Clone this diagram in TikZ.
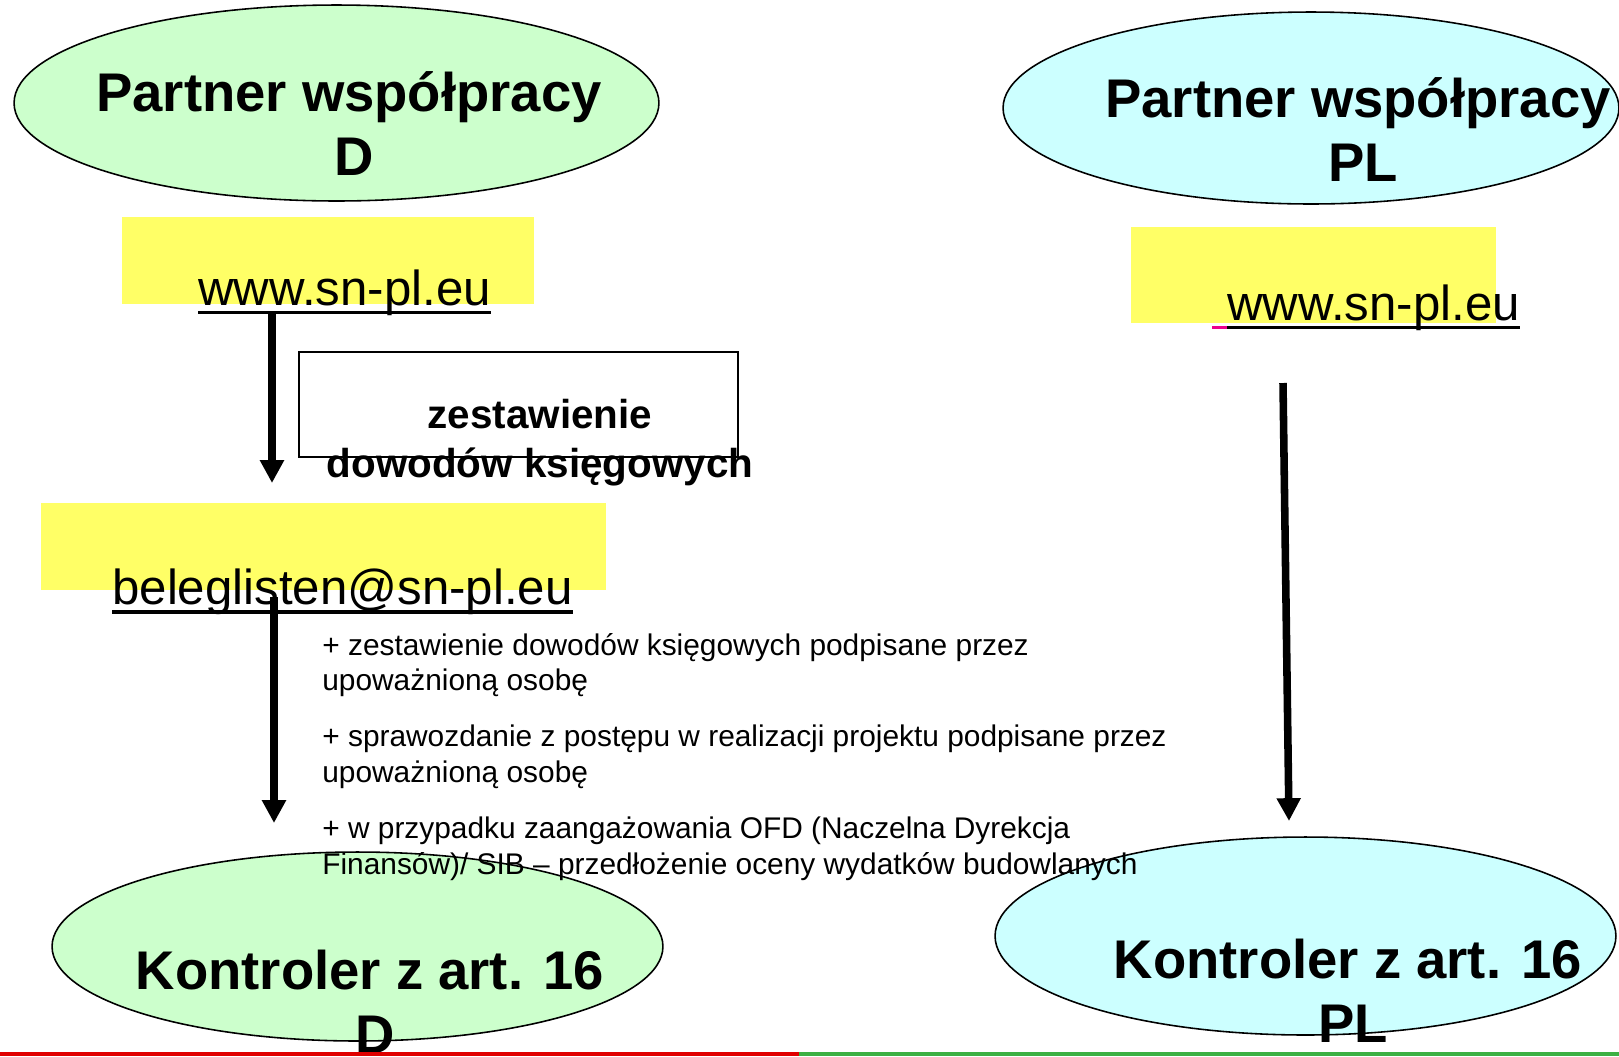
\documentclass[tikz,border=0pt]{standalone}
\usepackage{fontspec}
\setmainfont{Liberation Sans}
\usetikzlibrary{arrows.meta,positioning,shapes.geometric}
\definecolor{partnerD}{HTML}{CCFFCC}
\definecolor{partnerPL}{HTML}{CCFFFF}
\definecolor{hilite}{HTML}{FFFF66}
\definecolor{lineRed}{HTML}{E00000}
\definecolor{lineGreen}{HTML}{3CB043}
\newcommand\linkline[1]{\setbox0\hbox{#1}\rlap{\rule[-5.4pt]{\wd0}{1.8pt}}\box0}

\begin{document}
\begin{tikzpicture}[
  x = 0.02cm, y = -0.02cm,
  oval/.style  = {ellipse, draw, line width=0.9pt},
  big/.style   = {align=center, inner sep=0pt, anchor=base,
                  font=\fontsize{31}{36.3}\selectfont\bfseries},
  hl/.style    = {rectangle, fill=hilite, inner sep=0pt, anchor=north west},
  link/.style  = {inner sep=0pt, anchor=base west,
                  font=\fontsize{28}{34}\selectfont},
  arr/.style   = {-{Triangle[length=13pt,width=13pt]}, line width=4.3pt}
]
\useasboundingbox (0,0) rectangle (1619,1056);

\node[oval, fill=partnerD,  minimum width=12.9cm,  minimum height=3.92cm] (partD)  at (336.5,103) {};
\node[oval, fill=partnerPL, minimum width=12.32cm, minimum height=3.84cm] (partPL) at (1311,108)  {};
\node[oval, fill=partnerD,  minimum width=12.22cm, minimum height=3.78cm] (kontD)  at (357.5,946.5) {};
\node[oval, fill=partnerPL, minimum width=12.42cm, minimum height=3.96cm] (kontPL) at (1305.5,936) {};

\node[big] (partDtxt)  at (349,175)  {Partner współpracy\\\hspace*{6pt}D};
\node[big] (partPLtxt) at (1358,181) {Partner współpracy\\\hspace*{6pt}PL};
\node[big] (kontDtxt)  at (370,1053) {Kontroler z art. 16\\\hspace*{6pt}D};
\node[big] (kontPLtxt) at (1348,1042) {Kontroler z art. 16\\\hspace*{6pt}PL};

\node[hl, minimum width=8.24cm, minimum height=1.74cm] (hlD)    at (122,217) {};
\node[hl, minimum width=7.3cm,  minimum height=1.92cm] (hlPL)   at (1131,227) {};
\node[hl, minimum width=11.3cm, minimum height=1.74cm] (hlMail) at (41,503) {};

\node[link] (urlD)  at (198,305) {\linkline{www.sn-pl.eu}};
\node[link] (urlPL) at (1212,320) {{\color{magenta}\rule[-5.4pt]{8.5pt}{1.8pt}}\linkline{www.sn-pl.eu}};
\node[link] (mail)  at (112,604) {\linkline{beleglisten@sn-pl.eu}};

\node[rectangle, draw, line width=0.9pt, minimum width=8.78cm, minimum height=2.1cm] (sumBox) at (518.5,404.5) {};
\node[align=center, inner sep=0pt, anchor=base,
      font=\fontsize{23}{27.8}\selectfont\bfseries] (sumTxt) at (540,477) {zestawienie\\dowodów księgowych};

\coordinate (dTop)  at (272,313);
\coordinate (dMid)  at (272,483);
\coordinate (mTop)  at (274,597);
\coordinate (mBot)  at (274,823);
\coordinate (plTop) at (1283,383);
\coordinate (plBot) at (1289,821);
\draw[arr] (dTop)  -- (dMid);
\draw[arr] (mTop)  -- (mBot);
\draw[arr] (plTop) -- (plBot);

\node[align=left, inner sep=0pt, anchor=base west,
      font=\fontsize{17}{20.4}\selectfont] (notes) at (322,874)
  {+ zestawienie dowodów księgowych podpisane przez\\
   upoważnioną osobę\\[11.3pt]
   + sprawozdanie z postępu w realizacji projektu podpisane przez\\
   upoważnioną osobę\\[11.3pt]
   + w przypadku zaangażowania OFD (Naczelna Dyrekcja\\
   Finansów)/ SIB – przedłożenie oceny wydatków budowlanych};

\draw[lineRed,   line width=2.3pt] (0,1054)   -- (799,1054);
\draw[lineGreen, line width=2.3pt] (799,1054) -- (1619,1054);
\end{tikzpicture}
\end{document}
